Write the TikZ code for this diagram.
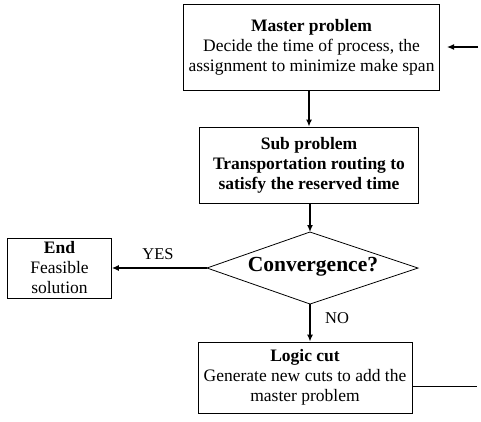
\documentclass[tikz,border=0pt]{standalone}
\usepackage{fontspec}
\setmainfont{Liberation Serif}
\usetikzlibrary{arrows.meta}
\begin{document}
\begin{tikzpicture}[x=1pt,y=-1pt,
  box/.style={draw,line width=0.8pt,inner sep=0pt,align=center,font=\fontsize{17.5}{20}\selectfont},
  arr/.style={line width=1.6pt,-{Latex[length=7pt,width=6pt]}},
  harr/.style={line width=1.2pt,-{Latex[length=7pt,width=6pt]}},
  lbl/.style={font=\fontsize{16.5}{18}\selectfont,inner sep=0pt}]
\useasboundingbox (0,0) rectangle (481,421);
\node[box,minimum width=256pt,minimum height=86pt] (master) at (311.5,47)
  {\textbf{Master problem}\\Decide the time of process, the\\assignment to minimize make span};
\node[box,minimum width=219pt,minimum height=76pt] (sub) at (309,165)
  {\textbf{Sub problem}\\\textbf{Transportation routing to}\\\textbf{satisfy the reserved time}};
\coordinate (dT) at (310,232);
\coordinate (dB) at (310,304);
\coordinate (dL) at (207,268);
\coordinate (dR) at (418,268);
\draw[line width=0.8pt] (dT) -- (dR) -- (dB) -- (dL) -- cycle;
\node[font=\fontsize{21.5}{24}\selectfont\bfseries,inner sep=0pt] (dia) at (313,267) {Convergence?};
\node[box,minimum width=104pt,minimum height=60pt] (end) at (59.5,268)
  {\textbf{End}\\Feasible\\solution};
\node[box,minimum width=214pt,minimum height=71pt] (logic) at (305,377.5)
  {\textbf{Logic cut}\\Generate new cuts to add the\\master problem};
\coordinate (inR) at (478,47);
\coordinate (outR) at (477,386);
\draw[arr] (master.south -| sub.north) -- (sub.north);
\draw[arr] (sub.south -| dT) -- (dT);
\draw[harr] (dL) -- (end.east);
\node[lbl] (yes) at (158,254) {YES};
\draw[arr] (dB) -- (dB |- logic.north);
\node[lbl] (no) at (337,318) {NO};
\draw[harr] (inR) -- (447,47);
\draw[line width=0.8pt] (logic.east |- outR) -- (outR);
\end{tikzpicture}
\end{document}
